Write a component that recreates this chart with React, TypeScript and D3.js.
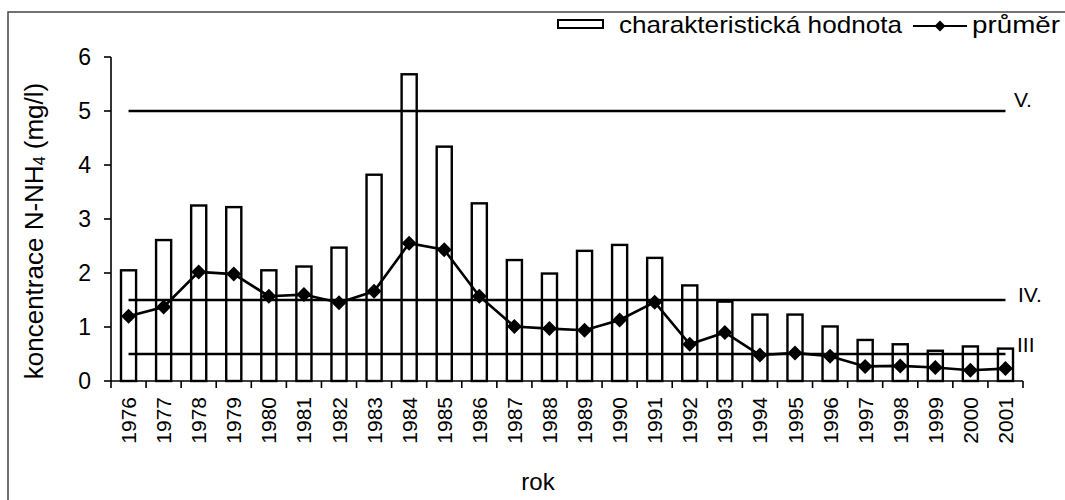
import React from "react";
import * as d3 from "d3";

const years = ["1976","1977","1978","1979","1980","1981","1982","1983","1984","1985","1986","1987","1988","1989","1990","1991","1992","1993","1994","1995","1996","1997","1998","1999","2000","2001"];
const characteristic = [2.05,2.61,3.25,3.22,2.05,2.12,2.47,3.82,5.68,4.34,3.29,2.24,1.99,2.41,2.52,2.28,1.77,1.47,1.23,1.23,1.01,0.76,0.68,0.56,0.64,0.6];
const mean = [1.2,1.37,2.02,1.98,1.57,1.6,1.45,1.66,2.55,2.43,1.57,1.01,0.97,0.94,1.13,1.46,0.68,0.9,0.48,0.52,0.46,0.27,0.28,0.25,0.2,0.23];
const yTicks = [0,1,2,3,4,5,6];
const classLimits = [
  { value: 5, label: "V." },
  { value: 1.5, label: "IV." },
  { value: 0.5, label: "III" },
];

const W = 1065, H = 500;
const left = 111, right = 1023, top = 57, bottom = 381;
const font = "'Liberation Sans', Arial, sans-serif";

export default function App() {
  const x = d3.scaleBand<string>().domain(years).range([left, right]).paddingInner(0.57).paddingOuter(0.285);
  const y = d3.scaleLinear().domain([0, 6]).range([bottom, top]);
  const step = x.step();
  const cx = (d: string) => (x(d) as number) + x.bandwidth() / 2;
  const line = d3.line<number>().x((_, i) => cx(years[i])).y((v) => y(v));
  const x0 = cx(years[0]);
  const x1 = cx(years[years.length - 1]);
  const labelPos: Record<string, [number, number]> = { "V.": [1014, 107], "IV.": [1018, 302], "III": [1017, 352] };
  const dia = (px: number, py: number, r: number) => `M${px},${py - r}L${px + r},${py}L${px},${py + r}L${px - r},${py}Z`;
  const boundaries = d3.range(years.length + 1).map((i) => left + i * step);

  return (
    <svg width={W} height={H} style={{ display: "block", position: "absolute", left: 0, top: 0 }} fontFamily={font}>
      <rect x={0} y={0} width={W} height={H} fill="#fff" />
      <rect x={8} y={12} width={1200} height={700} fill="none" stroke="#444" strokeWidth={1.5} />
      {/* bars */}
      {years.map((yr, i) => (
        <rect key={yr} x={x(yr)} y={y(characteristic[i])} width={x.bandwidth()} height={bottom - y(characteristic[i])}
          fill="#fff" stroke="#000" strokeWidth={2.4} />
      ))}
      {/* class limit lines */}
      {classLimits.map((c) => (
        <g key={c.label}>
          <line x1={x0} x2={x1} y1={y(c.value)} y2={y(c.value)} stroke="#000" strokeWidth={2.6} />
          <text x={labelPos[c.label][0]} y={labelPos[c.label][1]} fontSize={21} fill="#000">{c.label}</text>
        </g>
      ))}
      {/* mean line */}
      <path d={line(mean) || ""} fill="none" stroke="#000" strokeWidth={2.6} />
      {mean.map((v, i) => (
        <path key={i} d={dia(cx(years[i]), y(v), 7.5)} fill="#000" />
      ))}
      {/* y axis */}
      <line x1={left} x2={left} y1={top} y2={bottom} stroke="#000" strokeWidth={1.6} />
      {yTicks.map((t) => (
        <g key={t}>
          <line x1={left - 7} x2={left} y1={y(t)} y2={y(t)} stroke="#000" strokeWidth={1.6} />
          <text x={91} y={y(t) + 8} fontSize={23} textAnchor="end" fill="#000">{t}</text>
        </g>
      ))}
      {/* x axis */}
      <line x1={left} x2={right} y1={bottom} y2={bottom} stroke="#000" strokeWidth={1.6} />
      {boundaries.map((b, i) => (
        <line key={i} x1={b} x2={b} y1={bottom} y2={bottom + 7} stroke="#000" strokeWidth={1.6} />
      ))}
      {years.map((yr) => (
        <text key={yr} transform={`translate(${cx(yr) + 7.5},${397}) rotate(-90)`} fontSize={21} textAnchor="end" fill="#000">{yr}</text>
      ))}
      <text x={538} y={490} fontSize={24} textAnchor="middle" fill="#000">rok</text>
      <text transform={`translate(43,231) rotate(-90)`} fontSize={26} textAnchor="middle" fill="#000">
        koncentrace N-NH<tspan fontSize={16} dy={2}>4</tspan><tspan dy={-2}> (mg/l)</tspan>
      </text>
      {/* legend */}
      <rect x={558} y={20} width={45} height={8} fill="#fff" stroke="#000" strokeWidth={2} />
      <text x={619} y={33} fontSize={24} textLength={283} lengthAdjust="spacingAndGlyphs" fill="#000">charakteristická hodnota</text>
      <line x1={913} x2={967} y1={26} y2={26} stroke="#000" strokeWidth={2} />
      <path d={dia(940, 26, 5.5)} fill="#000" />
      <text x={972} y={33} fontSize={24} textLength={88} lengthAdjust="spacingAndGlyphs" fill="#000">průměr</text>
    </svg>
  );
}
